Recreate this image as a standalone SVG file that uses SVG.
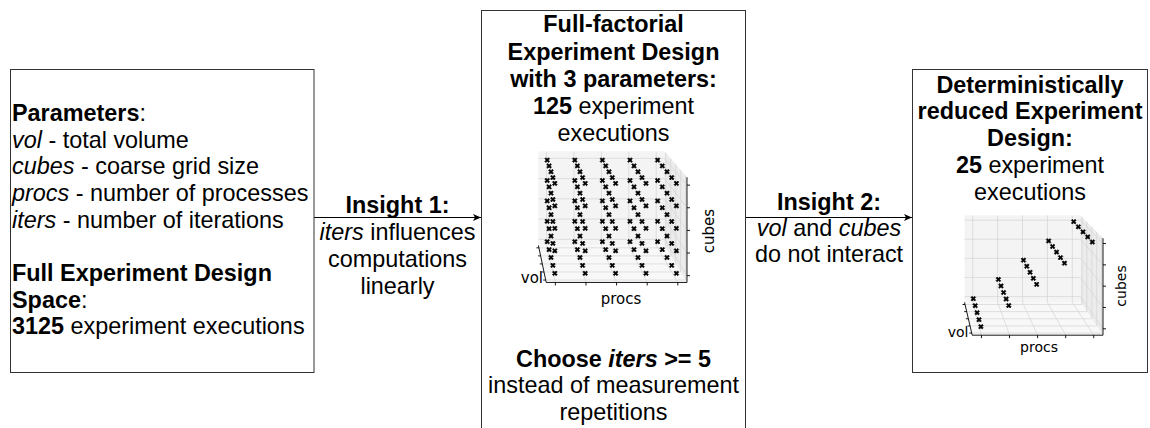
<svg xmlns="http://www.w3.org/2000/svg" width="1150" height="428" viewBox="0 0 1150 428">
<defs>
<style>
.box{fill:#fff;stroke:#333;stroke-width:1}
.t{font-family:"Liberation Sans",Arial,sans-serif;font-size:23.4px;fill:#000}
.c{text-anchor:middle}
.b{font-weight:bold}
.i{font-style:italic}
.edge{stroke:#000;stroke-width:1;fill:none;marker-end:url(#arr)}
.pb{fill:#f4f4f4}
.pr{fill:#ececec}
.pf{fill:#f8f8f8}
.g{stroke:#d4d4d4;stroke-width:0.7;fill:none}
.ax{stroke:#000;stroke-width:0.9;fill:none}
.s{fill:none;stroke:none;marker-start:url(#pt);marker-mid:url(#pt);marker-end:url(#pt)}
.al{font-family:"DejaVu Sans",sans-serif;fill:#000}
</style>
<marker id="arr" markerWidth="10" markerHeight="8" refX="8" refY="3.5" orient="auto" markerUnits="userSpaceOnUse"><path d="M0,0 L8,3.5 L0,7 L2,3.5 Z" fill="#000"/></marker>
<marker id="pt" markerWidth="8" markerHeight="8" refX="4" refY="4" markerUnits="userSpaceOnUse" overflow="visible"><path d="M1.6,2.7 L2.7,1.6 L4,2.9 L5.3,1.6 L6.4,2.7 L5.1,4 L6.4,5.3 L5.3,6.4 L4,5.1 L2.7,6.4 L1.6,5.3 L2.9,4 Z" fill="#000" stroke="#000" stroke-width="0.6" stroke-linejoin="round"/></marker>
</defs>

<g id="connectors">
<path class="edge" d="M314,217.5 H481"/>
<path class="edge" d="M746,217.5 H912"/>
<text class="t c" x="397.5" y="213"><tspan class="b">Insight 1:</tspan></text>
<text class="t c" x="397.5" y="240"><tspan class="i">iters</tspan> influences</text>
<text class="t c" x="397.5" y="267">computations</text>
<text class="t c" x="397.5" y="293.5">linearly</text>
<text class="t c" x="829" y="209.5"><tspan class="b">Insight 2:</tspan></text>
<text class="t c" x="829" y="235.5"><tspan class="i">vol</tspan> and <tspan class="i">cubes</tspan></text>
<text class="t c" x="829" y="262">do not interact</text>
</g>

<g id="node-parameters">
<rect class="box" x="10.5" y="69.5" width="303.5" height="303"/>
<text class="t" x="12" y="121"><tspan class="b">Parameters</tspan>:</text>
<text class="t" x="12" y="147.7"><tspan class="i">vol</tspan> - total volume</text>
<text class="t" x="12" y="174.3"><tspan class="i">cubes</tspan> - coarse grid size</text>
<text class="t" x="12" y="201"><tspan class="i">procs</tspan> - number of processes</text>
<text class="t" x="12" y="227.7"><tspan class="i">iters</tspan> - number of iterations</text>
<text class="t" x="12" y="281"><tspan class="b">Full Experiment Design</tspan></text>
<text class="t" x="12" y="307.7"><tspan class="b">Space</tspan>:</text>
<text class="t" x="12" y="334.3"><tspan class="b">3125</tspan> experiment executions</text>
</g>

<g id="node-full-factorial">
<rect class="box" x="481.5" y="10.5" width="264" height="430"/>
<text class="t c b" x="613.5" y="32">Full-factorial</text>
<text class="t c b" x="613.5" y="59.5">Experiment Design</text>
<text class="t c b" x="613.5" y="86.5">with 3 parameters:</text>
<text class="t c" x="613.5" y="113.5"><tspan class="b">125</tspan> experiment</text>
<text class="t c" x="613.5" y="141">executions</text>
<g id="plot-full">
<rect class="pb" x="538.41" y="151.27" width="126" height="94.13"/>
<polygon class="pr" points="664.41,151.27 686.99,177.2 686.99,282.46 664.41,245.4"/>
<polygon class="pf" points="538.41,245.4 664.41,245.4 686.99,282.46 546.19,282.46"/>
<path class="g" d="M546.63,151.27V245.4 M574.02,151.27V245.4 M601.41,151.27V245.4 M628.8,151.27V245.4 M656.19,151.27V245.4
M538.41,239.33H664.41 M538.41,219.09H664.41 M538.41,198.84H664.41 M538.41,178.6H664.41 M538.41,158.35H664.41
M664.41,239.33L686.99,275.67 M664.41,219.09L686.99,253.03 M664.41,198.84L686.99,230.4 M664.41,178.6L686.99,207.76 M664.41,158.35L686.99,185.13
M665.88,152.96V247.82 M670.79,158.6V255.88 M675.7,164.24V263.93 M680.61,169.87V271.99 M685.52,175.51V280.04
M546.63,245.4L555.37,282.46 M574.02,245.4L585.98,282.46 M601.41,245.4L616.59,282.46 M628.8,245.4L647.2,282.46 M656.19,245.4L677.81,282.46
M538.92,247.82H665.88 M540.61,255.88H670.79 M542.3,263.93H675.7 M543.99,271.99H680.61 M545.68,280.04H685.52"/>
<path class="ax" d="M538.41,245.4L546.19,282.46L686.99,282.46L686.99,177.2
M538.92,247.82h-2.5 M540.61,255.88h-2.5 M542.3,263.93h-2.5 M543.99,271.99h-2.5 M545.68,280.04h-2.5
M555.37,282.46v3 M585.98,282.46v3 M616.59,282.46v3 M647.2,282.46v3 M677.81,282.46v3
M686.99,275.67h3 M686.99,253.03h3 M686.99,230.4h3 M686.99,207.76h3 M686.99,185.13h3"/>
<path class="s" d="M547.2,241.7 l1.9,7.9 l1.9,7.9 l1.9,7.9 l1.9,7.9"/>
<path class="s" d="M547.2,221.3 l1.9,7.38 l1.9,7.38 l1.9,7.38 l1.9,7.38"/>
<path class="s" d="M547.2,200.9 l1.9,6.86 l1.9,6.86 l1.9,6.86 l1.9,6.86"/>
<path class="s" d="M547.2,180.5 l1.9,6.34 l1.9,6.34 l1.9,6.34 l1.9,6.34"/>
<path class="s" d="M547.2,160.1 l1.9,5.82 l1.9,5.82 l1.9,5.82 l1.9,5.82"/>
<path class="s" d="M574.8,241.7 l2.6,7.9 l2.6,7.9 l2.6,7.9 l2.6,7.9"/>
<path class="s" d="M574.8,221.3 l2.6,7.38 l2.6,7.38 l2.6,7.38 l2.6,7.38"/>
<path class="s" d="M574.8,200.9 l2.6,6.86 l2.6,6.86 l2.6,6.86 l2.6,6.86"/>
<path class="s" d="M574.8,180.5 l2.6,6.34 l2.6,6.34 l2.6,6.34 l2.6,6.34"/>
<path class="s" d="M574.8,160.1 l2.6,5.82 l2.6,5.82 l2.6,5.82 l2.6,5.82"/>
<path class="s" d="M602.4,241.7 l3.3,7.9 l3.3,7.9 l3.3,7.9 l3.3,7.9"/>
<path class="s" d="M602.4,221.3 l3.3,7.38 l3.3,7.38 l3.3,7.38 l3.3,7.38"/>
<path class="s" d="M602.4,200.9 l3.3,6.86 l3.3,6.86 l3.3,6.86 l3.3,6.86"/>
<path class="s" d="M602.4,180.5 l3.3,6.34 l3.3,6.34 l3.3,6.34 l3.3,6.34"/>
<path class="s" d="M602.4,160.1 l3.3,5.82 l3.3,5.82 l3.3,5.82 l3.3,5.82"/>
<path class="s" d="M630,241.7 l4,7.9 l4,7.9 l4,7.9 l4,7.9"/>
<path class="s" d="M630,221.3 l4,7.38 l4,7.38 l4,7.38 l4,7.38"/>
<path class="s" d="M630,200.9 l4,6.86 l4,6.86 l4,6.86 l4,6.86"/>
<path class="s" d="M630,180.5 l4,6.34 l4,6.34 l4,6.34 l4,6.34"/>
<path class="s" d="M630,160.1 l4,5.82 l4,5.82 l4,5.82 l4,5.82"/>
<path class="s" d="M657.6,241.7 l4.7,7.9 l4.7,7.9 l4.7,7.9 l4.7,7.9"/>
<path class="s" d="M657.6,221.3 l4.7,7.38 l4.7,7.38 l4.7,7.38 l4.7,7.38"/>
<path class="s" d="M657.6,200.9 l4.7,6.86 l4.7,6.86 l4.7,6.86 l4.7,6.86"/>
<path class="s" d="M657.6,180.5 l4.7,6.34 l4.7,6.34 l4.7,6.34 l4.7,6.34"/>
<path class="s" d="M657.6,160.1 l4.7,5.82 l4.7,5.82 l4.7,5.82 l4.7,5.82"/>
<text class="al" x="543" y="283" font-size="15" text-anchor="end">vol</text>
<text class="al" x="621" y="304" font-size="15" text-anchor="middle">procs</text>
<text class="al" font-size="15" text-anchor="middle" transform="translate(714,231) rotate(-90)">cubes</text>
</g>
<text class="t c" x="613.5" y="366.7"><tspan class="b">Choose <tspan class="i">iters</tspan> &gt;= 5</tspan></text>
<text class="t c" x="613.5" y="393.3">instead of measurement</text>
<text class="t c" x="613.5" y="419.5">repetitions</text>
</g>

<g id="node-reduced">
<rect class="box" x="912.5" y="69.5" width="235" height="303"/>
<text class="t c b" x="1030" y="92.7">Deterministically</text>
<text class="t c b" x="1030" y="119.3">reduced Experiment</text>
<text class="t c b" x="1030" y="146">Design:</text>
<text class="t c" x="1030" y="173.3"><tspan class="b">25</tspan> experiment</text>
<text class="t c" x="1030" y="200">executions</text>
<g id="plot-reduced">
<rect class="pb" x="964.52" y="215.4" width="115.99" height="86.93"/>
<polygon class="pr" points="1080.51,215.4 1103,238.22 1103,335.19 1080.51,302.33"/>
<polygon class="pf" points="964.52,302.33 1080.51,302.33 1103,335.19 972.21,335.19"/>
<path class="g" d="M972.73,215.4V302.33 M997.62,215.4V302.33 M1022.52,215.4V302.33 M1047.41,215.4V302.33 M1072.3,215.4V302.33
M964.52,296.6H1080.51 M964.52,277.49H1080.51 M964.52,258.39H1080.51 M964.52,239.28H1080.51 M964.52,220.18H1080.51
M1080.51,296.6L1103,328.8 M1080.51,277.49L1103,307.49 M1080.51,258.39L1103,286.17 M1080.51,239.28L1103,264.86 M1080.51,220.18L1103,243.54
M1081.98,216.89V304.48 M1086.87,221.85V311.62 M1091.76,226.81V318.76 M1096.64,231.77V325.91 M1101.53,236.73V333.05
M972.73,302.33L981.47,335.19 M997.62,302.33L1009.54,335.19 M1022.52,302.33L1037.6,335.19 M1047.41,302.33L1065.67,335.19 M1072.3,302.33L1093.74,335.19
M965.02,304.48H1081.98 M966.69,311.62H1086.87 M968.36,318.76H1091.76 M970.04,325.91H1096.64 M971.71,333.05H1101.53"/>
<path class="ax" d="M964.52,302.33L972.21,335.19L1103,335.19L1103,238.22
M965.02,304.48h-2.5 M966.69,311.62h-2.5 M968.36,318.76h-2.5 M970.04,325.91h-2.5 M971.71,333.05h-2.5
M981.47,335.19v3 M1009.54,335.19v3 M1037.6,335.19v3 M1065.67,335.19v3 M1093.74,335.19v3
M1103,328.8h3 M1103,307.49h3 M1103,286.17h3 M1103,264.86h3 M1103,243.54h3"/>
<path class="s" d="M973.3,298.7 l1.9,7 l1.9,7 l1.9,7 l1.9,7"/>
<path class="s" d="M998.4,279.45 l2.59,6.52 l2.59,6.52 l2.59,6.52 l2.59,6.52"/>
<path class="s" d="M1023.5,260.2 l3.28,6.04 l3.28,6.04 l3.28,6.04 l3.28,6.04"/>
<path class="s" d="M1048.6,240.95 l3.97,5.56 l3.97,5.56 l3.97,5.56 l3.97,5.56"/>
<path class="s" d="M1073.7,221.7 l4.66,5.08 l4.66,5.08 l4.66,5.08 l4.66,5.08"/>
<text class="al" x="968.5" y="337" font-size="14" text-anchor="end">vol</text>
<text class="al" x="1039" y="352" font-size="14" text-anchor="middle">procs</text>
<text class="al" font-size="14" text-anchor="middle" transform="translate(1126,286) rotate(-90)">cubes</text>
</g>
</g>
</svg>
